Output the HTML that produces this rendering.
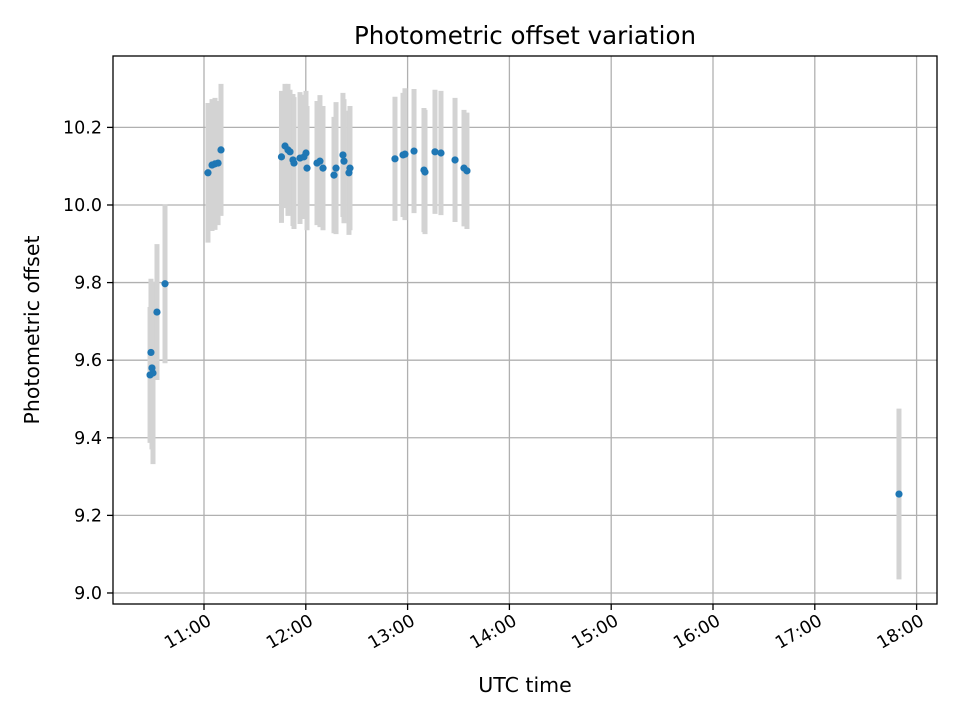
<!DOCTYPE html>
<html><head><meta charset="utf-8"><style>
body{margin:0;background:#fff}
svg{display:block;font-family:"DejaVu Sans","Liberation Sans",sans-serif}
</style></head><body>
<svg id="chart" width="960" height="720" viewBox="0 0 960 720" xmlns="http://www.w3.org/2000/svg">
<rect width="960" height="720" fill="#fff"/>
<g id="grid"></g>
<g id="bars"></g>
<g id="pts"></g>
<g id="axes"></g>
<text x="525" y="44" text-anchor="middle" font-size="24.5">Photometric offset variation</text>
<text x="525" y="692" text-anchor="middle" font-size="20.5">UTC time</text>
<text transform="translate(39,330) rotate(-90)" text-anchor="middle" font-size="20.5">Photometric offset</text>
</svg>
<script>
const times=[10.470,10.479,10.489,10.499,10.538,10.617,
11.039,11.079,11.108,11.138,11.167,
11.761,11.796,11.825,11.845,11.874,11.884,11.943,11.982,12.002,12.012,12.110,12.139,12.169,12.277,12.297,12.365,12.375,12.424,12.434,
12.876,12.955,12.974,13.063,13.161,13.171,13.269,13.328,13.466,13.554,13.583,17.827];
const values=[9.562,9.62,9.58,9.567,9.724,9.797,
10.083,10.103,10.106,10.108,10.142,
10.124,10.152,10.142,10.137,10.116,10.108,10.121,10.124,10.134,10.095,10.108,10.113,10.095,10.077,10.095,10.129,10.113,10.083,10.095,
10.119,10.129,10.131,10.139,10.09,10.085,10.137,10.134,10.116,10.095,10.088,9.255];
const errors=[0.175,0.19,0.21,0.235,0.175,0.205,
0.18,0.17,0.17,0.16,0.17,
0.17,0.16,0.17,0.16,0.17,0.17,0.17,0.16,0.16,0.16,0.16,0.17,0.16,0.15,0.17,0.16,0.16,0.16,0.16,
0.16,0.16,0.17,0.16,0.16,0.16,0.16,0.16,0.16,0.15,0.15,0.22];
const yTicks=[9.0,9.2,9.4,9.6,9.8,10.0,10.2];
const xTicks=[11,12,13,14,15,16,17,18];
const xLabels=["11:00","12:00","13:00","14:00","15:00","16:00","17:00","18:00"];
const L=113,R=937,T=56,B=604;
const x0=10.1061,x1=18.2004,y0=8.9716,y1=10.3840;
const sx=v=>L+(v-x0)/(x1-x0)*(R-L);
const sy=v=>B-(v-y0)/(y1-y0)*(B-T);
const NS="http://www.w3.org/2000/svg";
function mk(tag,parent,attrs){const e=document.createElementNS(NS,tag);for(const k in attrs)e.setAttribute(k,attrs[k]);document.getElementById(parent).appendChild(e);return e;}
xTicks.forEach((t,i)=>{
  const g=mk('line','grid',{x1:sx(t),x2:sx(t),y1:T,y2:B,stroke:'#b0b0b0','stroke-width':1.3});
  
  
  const tk=mk('line','axes',{x1:sx(t),x2:sx(t),y1:B,y2:B+6,stroke:'#000','stroke-width':1.3});
  
  
  const tx=mk('text','axes',{x:sx(t)+5,y:B+21,'text-anchor':'end','font-size':17.5,transform:`rotate(-30 ${sx(t)+5} ${B+14})`});
  
  
  tx.textContent=xLabels[i];
});
yTicks.forEach(t=>{
  const g=mk('line','grid',{x1:L,x2:R,y1:sy(t),y2:sy(t),stroke:'#b0b0b0','stroke-width':1.3});
  
  
  const tk=mk('line','axes',{x1:L-6,x2:L,y1:sy(t),y2:sy(t),stroke:'#000','stroke-width':1.3});
  
  
  const tx=mk('text','axes',{x:L-11,y:sy(t)+6,'text-anchor':'end','font-size':17.5});
  
  
  tx.textContent=t.toFixed(1);
});
const fr=mk('rect','axes',{x:L,y:T,width:R-L,height:B-T,fill:'none',stroke:'#000','stroke-width':1.3});


times.forEach((t,i)=>{
  const b=mk('line','bars',{x1:sx(t),x2:sx(t),y1:sy(values[i]+errors[i]),y2:sy(values[i]-errors[i]),stroke:'#d3d3d3','stroke-width':5});
  
  
  const p=mk('circle','pts',{cx:sx(t),cy:sy(values[i]),r:3.6,fill:'#1f77b4'});
  
  
});
</script>
</body></html>
